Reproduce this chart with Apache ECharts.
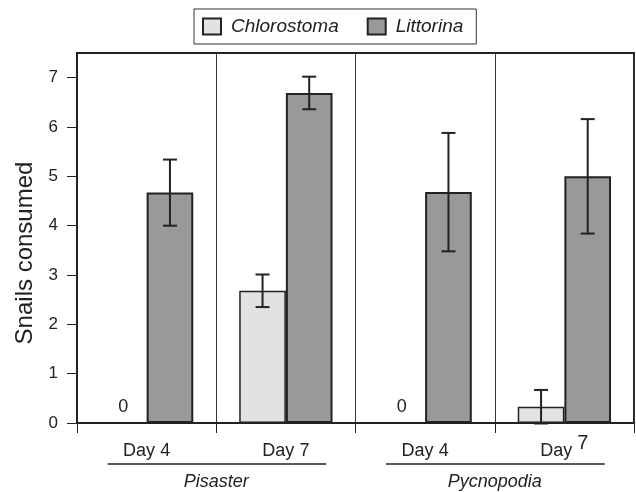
<!DOCTYPE html>
<html>
<head>
<meta charset="utf-8">
<script src="https://cdn.jsdelivr.net/npm/echarts@6/dist/echarts.min.js"></script>
<style>
html,body{margin:0;padding:0;background:#fff;}
#chart{width:636px;height:492px;}
</style>
</head>
<body>
<div id="chart"></div>
<script>
var categories = ['Day 4', 'Day 7', 'Day 4', 'Day 7'];
var groups = ['Pisaster', 'Pycnopodia'];
var groupSpans = [[0, 1], [2, 3]];
var seriesNames = ['Chlorostoma', 'Littorina'];
var chlorostoma = [0, 2.68, 0, 0.33];
var littorina = [4.67, 6.69, 4.68, 5.0];
var chlorostomaErr = [0, 0.33, 0, 0.34];
var littorinaErr = [0.67, 0.33, 1.2, 1.16];
var yTicks = [0, 1, 2, 3, 4, 5, 6, 7];

var FONT = '"Liberation Sans", Arial, Helvetica, sans-serif';
var DARK = '#222';
var BAR_FRAC = 0.335;

function errData(vals, errs) {
  return vals.map(function (v, i) { return [i, v - errs[i], v + errs[i]]; });
}

function errRender(side) {
  return function (params, api) {
    var band = api.size([1, 0])[0];
    var off = side * band * BAR_FRAC / 2;
    var lo = api.coord([api.value(0), api.value(1)]);
    var hi = api.coord([api.value(0), api.value(2)]);
    var x = lo[0] + off;
    var cap = 7;
    var st = { stroke: DARK, lineWidth: 2 };
    return {
      type: 'group',
      children: [
        { type: 'line', shape: { x1: x, y1: lo[1], x2: x, y2: hi[1] }, style: st },
        { type: 'line', shape: { x1: x - cap, y1: lo[1], x2: x + cap, y2: lo[1] }, style: st },
        { type: 'line', shape: { x1: x - cap, y1: hi[1], x2: x + cap, y2: hi[1] }, style: st }
      ]
    };
  };
}

var chart = echarts.init(document.getElementById('chart'), null, { renderer: 'canvas' });
chart.setOption({
  animation: false,
  backgroundColor: '#fff',
  textStyle: { fontFamily: FONT, color: DARK },
  legend: {
    data: seriesNames,
    left: 194,
    top: 9,
    orient: 'horizontal',
    borderColor: '#333',
    borderWidth: 1,
    padding: [8, 13, 8, 8],
    itemWidth: 18,
    itemHeight: 16,
    itemGap: 28,
    icon: 'rect',
    textStyle: { fontFamily: FONT, fontSize: 19, fontStyle: 'italic', color: DARK, padding: [0, 0, 0, 5] }
  },
  grid: {
    left: 77, right: 2, top: 53, bottom: 69,
    show: true, borderColor: DARK, borderWidth: 2, backgroundColor: 'transparent'
  },
  xAxis: [{
    type: 'category',
    data: categories,
    boundaryGap: true,
    axisLine: { show: true, lineStyle: { color: DARK, width: 2 } },
    axisTick: { show: true, inside: false, length: 10, alignWithLabel: false, lineStyle: { color: DARK, width: 1 } },
    splitLine: { show: true, lineStyle: { color: '#333', width: 1 } },
    axisLabel: {
      fontFamily: FONT, fontSize: 18, color: DARK, margin: 19,
      formatter: function (v, i) { return i === 3 ? 'Day {r|7}' : v; },
      rich: { r: { fontFamily: FONT, fontSize: 20, color: DARK, verticalAlign: 'top', padding: [-9, 0, 0, 0] } }
    }
  }, {
    type: 'category',
    data: groups,
    position: 'bottom',
    offset: 0,
    boundaryGap: true,
    axisLine: { show: false },
    axisTick: { show: false },
    splitLine: { show: false },
    axisLabel: { fontFamily: FONT, fontSize: 18, fontStyle: 'italic', color: DARK, margin: 50 }
  }],
  yAxis: {
    type: 'value',
    min: 0, max: 7.5,
    name: 'Snails consumed',
    nameLocation: 'middle',
    nameGap: 35,
    nameTextStyle: { fontFamily: FONT, fontSize: 24, color: DARK, padding: [0, 30, 0, 0] },
    axisLine: { show: true, lineStyle: { color: DARK, width: 2 } },
    axisTick: { show: true, inside: false, length: 10, customValues: yTicks, lineStyle: { color: DARK, width: 1 } },
    axisLabel: { fontFamily: FONT, fontSize: 17, color: DARK, margin: 19, customValues: yTicks },
    splitLine: { show: false }
  },
  series: [{
    name: seriesNames[0],
    type: 'bar',
    data: chlorostoma,
    barWidth: (BAR_FRAC * 100) + '%',
    barGap: '0%',
    itemStyle: { color: '#e2e2e2', borderColor: DARK, borderWidth: 1.5 },
    label: {
      show: true, position: 'top', distance: 6,
      fontFamily: FONT, fontSize: 18, color: DARK,
      formatter: function (p) { return p.value === 0 ? '0' : ''; }
    },
    z: 3
  }, {
    name: seriesNames[1],
    type: 'bar',
    data: littorina,
    barWidth: (BAR_FRAC * 100) + '%',
    barGap: '0%',
    itemStyle: { color: '#999999', borderColor: DARK, borderWidth: 2 },
    z: 3
  }, {
    type: 'custom',
    renderItem: errRender(-1),
    data: errData(chlorostoma, chlorostomaErr),
    encode: { x: 0, y: [1, 2] },
    z: 5,
    silent: true
  }, {
    type: 'custom',
    renderItem: errRender(1),
    data: errData(littorina, littorinaErr),
    encode: { x: 0, y: [1, 2] },
    z: 5,
    silent: true
  }, {
    type: 'custom',
    clip: false,
    silent: true,
    data: groupSpans,
    encode: { x: [0, 1] },
    renderItem: function (params, api) {
      var band = api.size([1, 0])[0];
      var a = api.coord([api.value(0), 0]);
      var b = api.coord([api.value(1), 0]);
      var y = a[1] + 41;
      return {
        type: 'line',
        shape: { x1: a[0] - band * 0.28, y1: y, x2: b[0] + band * 0.29, y2: y },
        style: { stroke: DARK, lineWidth: 1.5 }
      };
    },
    z: 5
  }]
});
</script>
</body>
</html>
